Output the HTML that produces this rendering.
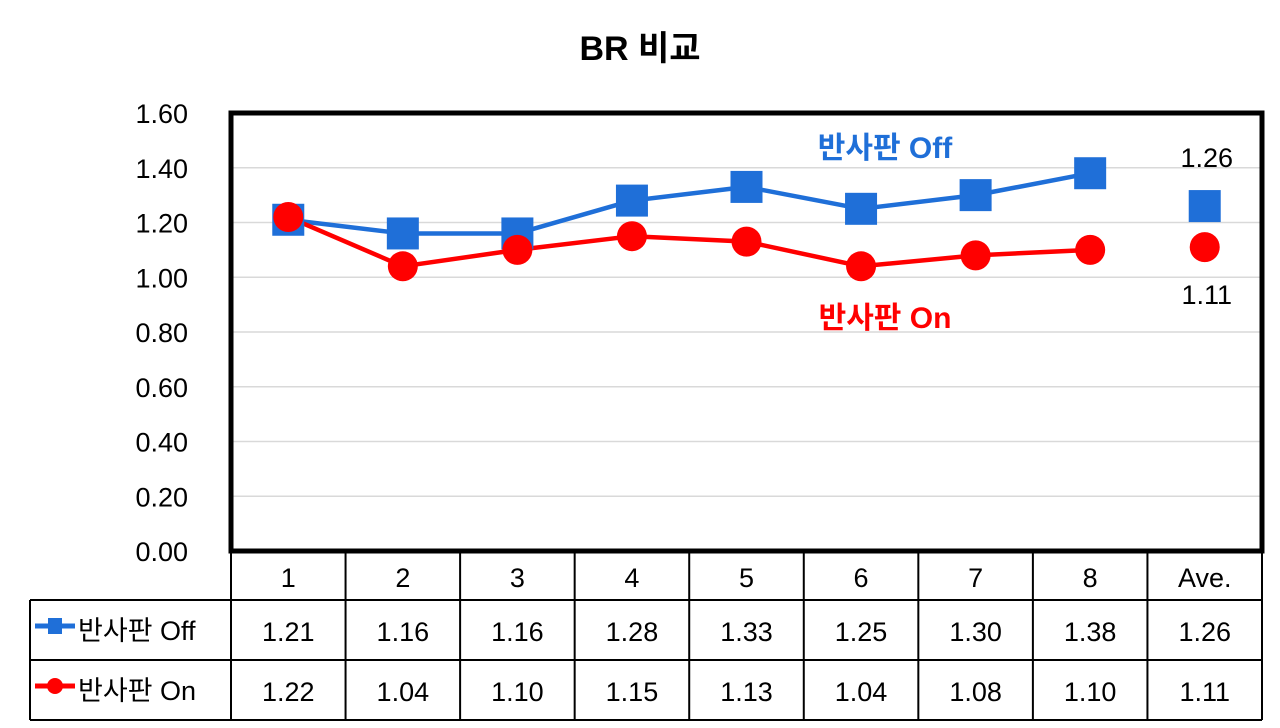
<!DOCTYPE html>
<html><head><meta charset="utf-8"><style>
body{margin:0;background:#fff;}
svg{display:block;font-family:"Liberation Sans","Noto Sans CJK KR",sans-serif;}
</style></head><body>
<svg id="chart" width="1280" height="728" viewBox="0 0 1280 728" xmlns="http://www.w3.org/2000/svg">
<text x="640" y="60" text-anchor="middle" font-size="34" font-weight="bold" fill="#000">BR 비교</text>
<g id="grid"></g><g id="yticks"></g><g id="series"></g><g id="table"></g>
<rect x="231" y="113" width="1031" height="438" fill="none" stroke="#000" stroke-width="5"/>
<text x="885" y="158" text-anchor="middle" font-size="30" font-weight="bold" fill="#1f6fd8">반사판 Off</text>
<text x="885" y="328" text-anchor="middle" font-size="30" font-weight="bold" fill="#f00">반사판 On</text>
</svg>
<script>
const categories=["1","2","3","4","5","6","7","8","Ave."];
const offValues=[1.21,1.16,1.16,1.28,1.33,1.25,1.30,1.38,1.26];
const onValues=[1.22,1.04,1.10,1.15,1.13,1.04,1.08,1.10,1.11];
const yTicks=[0,0.2,0.4,0.6,0.8,1.0,1.2,1.4,1.6];
const NS="http://www.w3.org/2000/svg";
const L=231,R=1262,T=113,B=551,YMAX=1.6;
const bw=(R-L)/categories.length;
const x=i=>L+bw*(i+0.5);
const y=v=>B-(v/YMAX)*(B-T);
function mk(tag,attrs,parent,txt){const e=document.createElementNS(NS,tag);for(const k in attrs)e.setAttribute(k,attrs[k]);if(txt!==undefined)e.textContent=txt;document.getElementById(parent).appendChild(e);return e;}
yTicks.forEach(t=>{
 const g=mk("line",{x1:L,x2:R,y1:y(t),y2:y(t),stroke:"#d9d9d9","stroke-width":1.5},"grid");
 
 
 const tx=mk("text",{x:188,y:y(t)+10,"text-anchor":"end","font-size":27,fill:"#000"},"yticks",t.toFixed(2));
 
 
});
function line(vals,color,name){
 const pts=vals.slice(0,8).map((v,i)=>x(i)+","+y(v)).join(" ");
 const p=mk("polyline",{points:pts,fill:"none",stroke:color,"stroke-width":4.5,"stroke-linejoin":"round"},"series");
 
 
}
line(offValues,"#1f6fd8","line-off");
line(onValues,"#f00","line-on");
offValues.forEach((v,i)=>{
 const r=mk("rect",{x:x(i)-16,y:y(v)-16,width:32,height:32,fill:"#1f6fd8"},"series");
 
 
});
onValues.forEach((v,i)=>{
 const c=mk("circle",{cx:x(i),cy:y(v),r:15,fill:"#f00"},"series");
 
 
});
const n=categories.length-1;
const l1=mk("text",{x:x(n)+2,y:y(offValues[n])-39,"text-anchor":"middle","font-size":27,fill:"#000"},"series",offValues[n].toFixed(2));


const l2=mk("text",{x:x(n)+2,y:y(onValues[n])+57,"text-anchor":"middle","font-size":27,fill:"#000"},"series",onValues[n].toFixed(2));


// table
const rows=[553,600,660,720];
const st={stroke:"#000","stroke-width":2};
function ln(x1,y1,x2,y2){const e=mk("line",Object.assign({x1,y1,x2,y2},st),"table");}
ln(30,600,R,600);ln(30,660,R,660);ln(30,720,R,720);ln(30,600,30,720);
for(let i=0;i<=categories.length;i++)ln(L+bw*i,rows[0],L+bw*i,720);
categories.forEach((c,i)=>{
 const t=mk("text",{x:x(i),y:587,"text-anchor":"middle","font-size":27,fill:"#000"},"table",c);
 
 
 const a=mk("text",{x:x(i),y:641,"text-anchor":"middle","font-size":27,fill:"#000"},"table",offValues[i].toFixed(2));
 
 
 const b=mk("text",{x:x(i),y:701,"text-anchor":"middle","font-size":27,fill:"#000"},"table",onValues[i].toFixed(2));
 
 
});
const k1=mk("line",{x1:35,x2:75,y1:626,y2:626,stroke:"#1f6fd8","stroke-width":5},"table");


const k1m=mk("rect",{x:48,y:618,width:14,height:16,fill:"#1f6fd8"},"table");


const k2=mk("line",{x1:35,x2:75,y1:686,y2:686,stroke:"#f00","stroke-width":5},"table");


const k2m=mk("circle",{cx:55,cy:686,r:8,fill:"#f00"},"table");


const t1=mk("text",{x:78,y:640,"font-size":27,fill:"#000"},"table","반사판 Off");


const t2=mk("text",{x:78,y:700,"font-size":27,fill:"#000"},"table","반사판 On");


</script>
</body></html>
